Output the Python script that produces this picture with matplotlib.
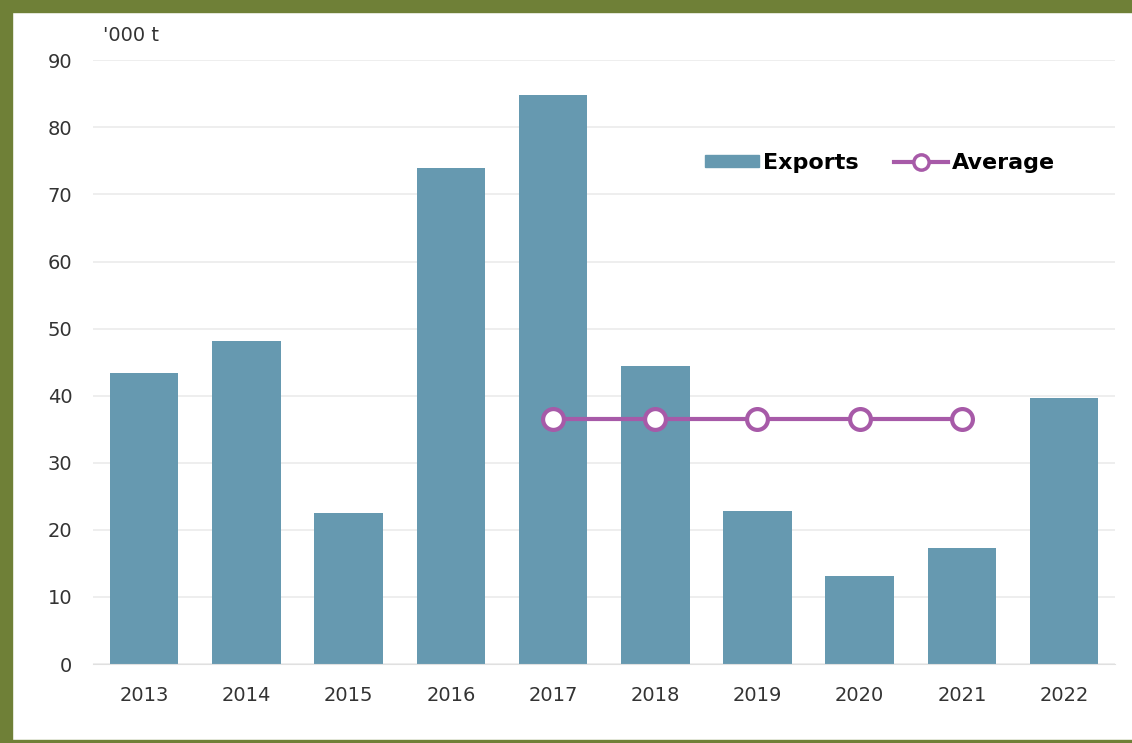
import matplotlib.pyplot as plt
from matplotlib.patches import Rectangle
from matplotlib.lines import Line2D
from matplotlib.patches import Patch

plt.rcParams['font.family'] = ['DejaVu Sans']

# data
years = ["2013", "2014", "2015", "2016", "2017", "2018", "2019", "2020", "2021", "2022"]
exports = [43.4, 48.1, 22.5, 73.9, 84.8, 44.4, 22.8, 13.1, 17.3, 39.6]
avg_years = ["2017", "2018", "2019", "2020", "2021"]
average = [36.5, 36.5, 36.5, 36.5, 36.5]

bar_color = "#6699b0"
avg_color = "#a75aa8"
frame_green = "#6f8037"

fig = plt.figure(figsize=(11.32, 7.43), dpi=100)
ax = fig.add_axes([0.0822, 0.1063, 0.903, 0.8126])

x = list(range(len(years)))
ax.bar(x, exports, width=0.67, color=bar_color, zorder=2)
avg_x = [years.index(y) for y in avg_years]
ax.plot(avg_x, average, color=avg_color, lw=3, marker="o", ms=15,
        markerfacecolor="white", markeredgecolor=avg_color, markeredgewidth=3, zorder=3)

ax.set_xlim(-0.5, len(years) - 0.5)
ax.set_ylim(0, 90)
ax.set_yticks(range(0, 91, 10))
ax.set_xticks(x)
ax.set_xticklabels(years)
ax.grid(axis="y", color="#ebebeb", lw=1.2, zorder=0)
for s in ["top", "right", "left"]:
    ax.spines[s].set_visible(False)
ax.spines["bottom"].set_color("#e0e0e0")
ax.tick_params(length=0, labelsize=14, colors="#333333")
ax.tick_params(axis="y", pad=15)
ax.tick_params(axis="x", pad=16)

ax.text(0.01, 90 + 2.2, "'000 t", fontsize=14, color="#333333", ha="left", va="bottom",
        transform=ax.get_yaxis_transform())

handles = [Patch(color=bar_color),
           Line2D([0], [0], color=avg_color, lw=3, marker="o", ms=11,
                  markerfacecolor="white", markeredgecolor=avg_color, markeredgewidth=2.5)]
leg = ax.legend(handles, ["Exports", "Average"], ncol=2, loc="center",
                bbox_to_anchor=(0.77, 0.83), frameon=False, handlelength=2.4,
                handleheight=0.42, handletextpad=0.2, columnspacing=1.6,
                prop={"weight": "bold", "size": 16})

# green frame around the picture
fig.patches.append(Rectangle((0, 731 / 743), 1, 12 / 743, transform=fig.transFigure,
                             color=frame_green, zorder=10))
fig.patches.append(Rectangle((0, 0), 12 / 1132, 1, transform=fig.transFigure,
                             color=frame_green, zorder=10))
fig.patches.append(Rectangle((0, 0), 1, 3 / 743, transform=fig.transFigure,
                             color=frame_green, zorder=10))

fig.savefig("out.png", dpi=100)
